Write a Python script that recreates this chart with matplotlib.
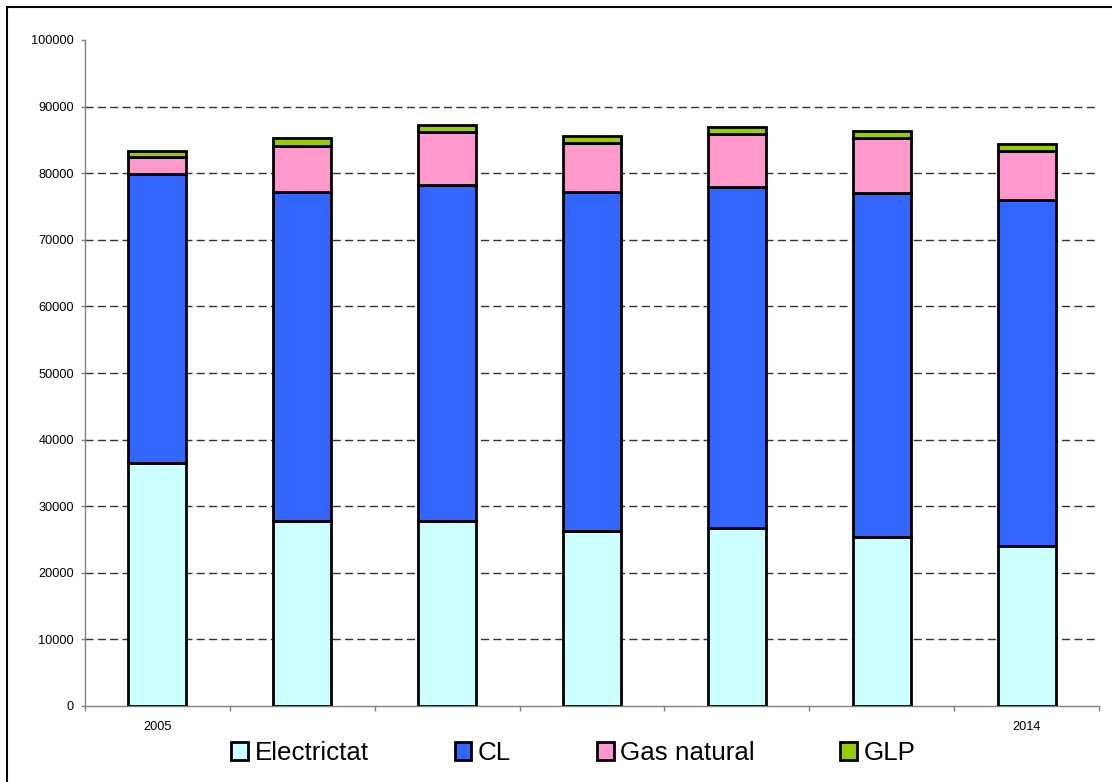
import matplotlib
matplotlib.use("Agg")
import matplotlib.pyplot as plt
import numpy as np
from matplotlib.patches import Rectangle
from matplotlib.ticker import FixedLocator, MultipleLocator

plt.rcParams['font.family'] = ['Liberation Sans', 'DejaVu Sans']

categories = ["2005", "", "", "", "", "", "2014"]
electricitat = [36500, 27800, 27800, 26300, 26800, 25350, 24000]
cl = [43350, 49400, 50450, 50850, 51150, 51650, 52000]
gas_natural = [2550, 6950, 8000, 7450, 7950, 8300, 7400]
glp = [1000, 1100, 1000, 1050, 1000, 1050, 950]
series_names = ["Electrictat", "CL", "Gas natural", "GLP"]
colors = ["#CCFFFF", "#3366FF", "#FF99CC", "#99CC00"]
yticks = list(range(0, 100001, 10000))

W, H = 1112, 782
fig = plt.figure(figsize=(W / 100, H / 100), dpi=100)
ax = fig.add_axes([85 / W, 1 - 706 / H, (1099 - 85) / W, (706 - 40) / H])

x = np.arange(len(categories))
bottom = np.zeros(len(categories))
handles = []
for name, vals, col in zip(series_names, [electricitat, cl, gas_natural, glp], colors):
    b = ax.bar(x, vals, width=0.4, bottom=bottom, color=col, edgecolor="black",
               linewidth=2.0, label=name, zorder=3)
    bottom += np.array(vals)
    handles.append(b)

ax.set_xlim(-0.5, len(categories) - 0.5)
ax.set_ylim(0, 100000)
ax.set_yticks(yticks)
ax.set_yticklabels([str(v) for v in yticks], fontsize=9.2)
ax.set_xticks(x)
ax.set_xticklabels(categories, fontsize=9.2)
ax.xaxis.set_minor_locator(FixedLocator(np.arange(-0.5, len(categories), 1.0)))
ax.tick_params(axis='x', which='major', length=0, pad=11)
ax.tick_params(axis='x', which='minor', length=3.5, width=1, color="#808080", direction='out')
ax.tick_params(axis='y', which='major', length=3, width=1, color="#808080", pad=5)

for s in ["top", "right"]:
    ax.spines[s].set_visible(False)
for s in ["left", "bottom"]:
    ax.spines[s].set_color("#808080")
    ax.spines[s].set_linewidth(1.0)

ax.set_axisbelow(True)
ax.yaxis.grid(True, color="#333333", linewidth=1.0, linestyle=(0, (5.8, 3.1)))
gl = ax.get_ygridlines()
gl[0].set_visible(False)
gl[-1].set_visible(False)

leg = fig.legend(handles=handles, labels=series_names, loc="center",
                 bbox_to_anchor=(573.5 / W, 1 - 753 / H), ncol=4, frameon=False,
                 fontsize=18.7, handlelength=0.65, handleheight=0.65,
                 handletextpad=0.25, columnspacing=3.3, borderpad=0, borderaxespad=0)
for p in leg.get_patches():
    p.set_linewidth(2.0)

fig.patches.append(Rectangle((7 / W, -0.05), 1.2, (H - 7) / H + 0.05,
                             transform=fig.transFigure, fill=False,
                             edgecolor="black", linewidth=1.5))

fig.savefig("out.png", dpi=100)
